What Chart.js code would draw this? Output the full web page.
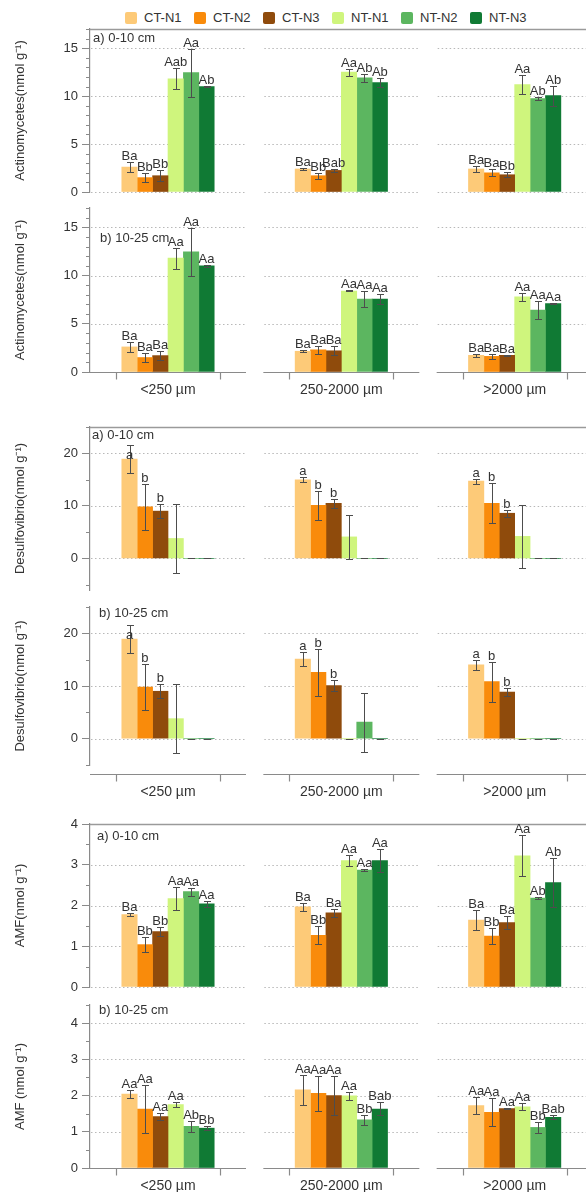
<!DOCTYPE html>
<html><head><meta charset="utf-8">
<script src="https://cdn.jsdelivr.net/npm/chart.js@4/dist/chart.umd.min.js"></script>
<style>
html,body{margin:0;padding:0;background:#fff;}
body{width:586px;height:1192px;overflow:hidden;position:relative;font-family:"Liberation Sans",Arial,Helvetica,sans-serif;color:#333;}
.lg{position:absolute;top:11px;height:14px;font-size:13px;line-height:14px;white-space:nowrap;}
.lg i{position:absolute;left:0;top:1px;width:12px;height:12px;border-radius:2px;}
.lg span{position:absolute;left:19px;top:0;}
canvas{position:absolute;left:0;}
</style></head><body>
<div id="legend"></div>
<script>
const treatments = ['CT-N1','CT-N2','CT-N3','NT-N1','NT-N2','NT-N3'];
const colors = ['#FDCA78','#F98B0B','#8F4B0C','#CFF57D','#5CB660','#107A34'];
const sizes = ['<250 µm','250-2000 µm','>2000 µm'];

// tick label values
const actTicks = [0,5,10,15];
const desTicks = [0,10,20];
const amfTicks = [0,1,2,3,4];

// rows = treatments (CT-N1..NT-N3), columns = size classes
const actA_mean = [[2.6,2.4,2.4],[1.5,1.7,2.0],[1.7,2.25,1.8],[11.8,12.5,11.2],[12.45,11.9,9.75],[11.0,11.4,10.05]];
const actA_err  = [[0.5,0.1,0.3],[0.45,0.3,0.35],[0.55,0.2,0.25],[1.1,0.35,1.0],[2.5,0.4,0.15],[0.1,0.45,1.05]];
const actA_lab  = [['Ba','Ba','Ba'],['Bb','Bb','Ba'],['Bb','Bab','Bb'],['Aab','Aa','Aa'],['Aa','Ab','Ab'],['Ab','Ab','Ab']];

const actB_mean = [[2.6,2.15,1.73],[1.5,2.3,1.62],[1.7,2.2,1.73],[11.8,8.4,7.78],[12.45,7.55,6.43],[11.0,7.55,7.1]];
const actB_err  = [[0.5,0.1,0.15],[0.45,0.4,0.25],[0.5,0.45,0.05],[1.1,0.05,0.4],[2.5,0.8,0.95],[0.1,0.55,0.05]];
const actB_lab  = [['Ba','Ba','Ba'],['Ba','Ba','Ba'],['Ba','Ba','Ba'],['Aa','Aa','Aa'],['Aa','Aa','Aa'],['Aa','Aa','Aa']];

const desA_mean = [[18.9,14.95,14.7],[9.8,10.1,10.5],[9.0,10.5,8.6],[3.8,4.1,4.2],[0,0,0],[0,0,0]];
const desA_err  = [[2.7,0.5,0.5],[4.4,2.8,3.8],[1.35,0.9,0.7],[6.6,4.2,6.0],[0,0,0],[0,0,0]];
const desA_lab  = [['a','a','a'],['b','b','b'],['b','b','b'],['','',''],['','',''],['','','']];

const desB_mean = [[18.9,15.1,14.0],[9.8,12.6,10.85],[9.0,10.1,8.85],[3.8,0,0],[0,3.15,0],[0,0,0]];
const desB_err  = [[2.7,1.3,1.0],[4.4,4.5,3.8],[1.35,1.1,0.8],[6.6,0,0],[0,5.6,0],[0,0,0]];
const desB_lab  = [['a','a','a'],['b','b','b'],['b','b','b'],['','',''],['','',''],['','','']];

const amfA_mean = [[1.78,1.97,1.64],[1.04,1.27,1.25],[1.36,1.82,1.58],[2.17,3.1,3.22],[2.34,2.87,2.18],[2.04,3.1,2.56]];
const amfA_err  = [[0.04,0.1,0.24],[0.18,0.22,0.19],[0.12,0.1,0.16],[0.28,0.13,0.5],[0.1,0.02,0.03],[0.08,0.28,0.6]];
const amfA_lab  = [['Ba','Ba','Ba'],['Bb','Bb','Bb'],['Bb','Ba','Ba'],['Aa','Aa','Aa'],['Aa','Aa','Ab'],['Aa','Aa','Ab']];

const amfB_mean = [[2.04,2.16,1.72],[1.63,2.06,1.54],[1.42,2.0,1.64],[1.75,1.99,1.69],[1.15,1.33,1.12],[1.1,1.63,1.4]];
const amfB_err  = [[0.1,0.42,0.24],[0.65,0.48,0.38],[0.1,0.53,0.02],[0.06,0.1,0.1],[0.16,0.13,0.16],[0.05,0.18,0.06]];
const amfB_lab  = [['Aa','Aa','Aa'],['Aa','Aa','Aa'],['Aa','Aa','Aa'],['Aa','Aa','Aa'],['Ab','Bb','Bb'],['Bb','Bab','Bab']];

const FONT = '"Liberation Sans", Arial, Helvetica, sans-serif';
const W = 620, PT = 20, PB = 50, AXIS_X = 90, RIGHT = 610;

function range(a, b, s) { const r = []; for (let v = a; v <= b + 1e-9; v += s) r.push(+v.toFixed(3)); return r; }

const panels = [
  {mean:actA_mean, err:actA_err, lab:actA_lab, min:0, max:17, ticks:actTicks, minor:range(0,17,1), grid:actTicks,
   top:29, bottom:192, frame:true, axisY:null, title:'Actinomycetes(nmol g⁻¹)', tag:'a) 0-10 cm', tagX:93, tagY:38},
  {mean:actB_mean, err:actB_err, lab:actB_lab, min:0, max:17, ticks:actTicks, minor:range(0,17,1), grid:[5,10,15],
   top:208, bottom:372, frame:false, axisY:372, title:'Actinomycetes(nmol g⁻¹)', tag:'b) 10-25 cm', tagX:100, tagY:238},
  {mean:desA_mean, err:desA_err, lab:desA_lab, min:-6, max:25, ticks:desTicks, minor:range(-5,25,5), grid:desTicks,
   top:427, bottom:589.5, frame:true, axisY:null, title:'Desulfovibrio(nmol g⁻¹)', tag:'a) 0-10 cm', tagX:92, tagY:435},
  {mean:desB_mean, err:desB_err, lab:desB_lab, min:-5, max:25, ticks:desTicks, minor:range(-5,25,5), grid:desTicks,
   top:607, bottom:765, frame:false, axisY:774, title:'Desulfovibrio(nmol g⁻¹)', tag:'b) 10-25 cm', tagX:99, tagY:613},
  {mean:amfA_mean, err:amfA_err, lab:amfA_lab, min:0, max:4, ticks:amfTicks, minor:range(0,4,0.5), grid:[0,1,2,3],
   top:824, bottom:987, frame:true, axisY:null, title:'AMF(nmol g⁻¹)', tag:'a) 0-10 cm', tagX:97, tagY:836},
  {mean:amfB_mean, err:amfB_err, lab:amfB_lab, min:0, max:4.5, ticks:amfTicks, minor:range(0,4.5,0.5), grid:[1,2,3,4],
   top:1005, bottom:1168, frame:false, axisY:1168, title:'AMF (nmol g⁻¹)', tag:'b) 10-25 cm', tagX:99, tagY:1010}
];

// legend
const lg = document.getElementById('legend');
treatments.forEach((t, i) => {
  const d = document.createElement('div');
  d.className = 'lg';
  d.style.left = (125 + i * 69) + 'px';
  d.innerHTML = '<i style="background:' + colors[i] + '"></i><span>' + t + '</span>';
  lg.appendChild(d);
});

function decoPlugin(p, offY) {
  return {
    id: 'deco',
    beforeDatasetsDraw(chart) {
      const {ctx, chartArea: ca} = chart;
      const x = chart.scales.x, y = chart.scales.y;
      ctx.save();
      // dotted grid segments
      ctx.strokeStyle = '#b8b8b8'; ctx.lineWidth = 1; ctx.setLineDash([1.5, 2.5]);
      p.grid.forEach(v => {
        const py = Math.round(y.getPixelForValue(v)) + 0.5;
        sizes.forEach((_, i) => {
          const cx = x.getPixelForValue(i);
          ctx.beginPath(); ctx.moveTo(Math.max(cx - 77, ca.left + 1), py); ctx.lineTo(cx + 77, py); ctx.stroke();
        });
      });
      ctx.setLineDash([]);
      if (p.frame) {
        ctx.strokeStyle = '#9a9a9a'; ctx.lineWidth = 1.3;
        ctx.beginPath(); ctx.moveTo(ca.left, Math.round(ca.top) + 0.5); ctx.lineTo(W, Math.round(ca.top) + 0.5); ctx.stroke();
      }
      if (p.axisY != null) {
        const ay = Math.round(p.axisY - offY) + 0.5;
        ctx.strokeStyle = '#8a8a8a'; ctx.lineWidth = 1.2;
        ctx.fillStyle = '#333'; ctx.font = '14px ' + FONT; ctx.textAlign = 'center'; ctx.textBaseline = 'middle';
        sizes.forEach((s, i) => {
          const cx = x.getPixelForValue(i);
          ctx.beginPath(); ctx.moveTo(Math.max(cx - 78, ca.left), ay); ctx.lineTo(cx + 78, ay); ctx.stroke();
          [-52, 52].forEach(dx => {
            const tx = Math.round(cx + dx) + 0.5;
            ctx.beginPath(); ctx.moveTo(tx, ay); ctx.lineTo(tx, ay + 7); ctx.stroke();
          });
          ctx.fillText(s, cx, ay + 18);
        });
      }
      ctx.restore();
    },
    afterDatasetsDraw(chart) {
      const {ctx, chartArea: ca} = chart;
      const y = chart.scales.y;
      ctx.save();
      // minor ticks
      ctx.strokeStyle = '#8a8a8a'; ctx.lineWidth = 1;
      p.minor.forEach(v => {
        if (p.ticks.includes(v)) return;
        const py = Math.round(y.getPixelForValue(v)) + 0.5;
        ctx.beginPath(); ctx.moveTo(ca.left - 4, py); ctx.lineTo(ca.left, py); ctx.stroke();
      });
      // panel tag extent (to keep letters clear of it)
      ctx.font = '13px ' + FONT;
      const tagW = ctx.measureText(p.tag).width;
      const tagTop = p.tagY - offY - 8, tagBot = p.tagY - offY + 8;
      // error bars and letters
      ctx.textAlign = 'center'; ctx.textBaseline = 'alphabetic'; ctx.fillStyle = '#333';
      for (let d = 0; d < treatments.length; d++) {
        const meta = chart.getDatasetMeta(d);
        meta.data.forEach((bar, i) => {
          const m = p.mean[d][i], e = p.err[d][i];
          const yt = Math.round(y.getPixelForValue(m + e)) + 0.5;
          const yb = Math.round(y.getPixelForValue(m - e)) + 0.5;
          const cx = Math.round(bar.x) + 0.5;
          ctx.strokeStyle = '#4d4d4d'; ctx.lineWidth = 1;
          ctx.beginPath();
          ctx.moveTo(cx, yt); ctx.lineTo(cx, yb);
          ctx.moveTo(cx - 3.5, yt); ctx.lineTo(cx + 3.5, yt);
          ctx.moveTo(cx - 3.5, yb); ctx.lineTo(cx + 3.5, yb);
          ctx.stroke();
          const t = p.lab[d][i];
          if (t) {
            let base = yt - 3;
            const inTagX = bar.x > p.tagX && bar.x < p.tagX + tagW;
            if (inTagX && base - 10 < tagBot && base > tagTop) base = yt + 13;
            ctx.fillText(t, bar.x, base);
          }
        });
      }
      // panel tag
      ctx.textAlign = 'left'; ctx.textBaseline = 'middle'; ctx.fillStyle = '#333';
      ctx.fillText(p.tag, p.tagX, p.tagY - offY);
      ctx.restore();
    }
  };
}

panels.forEach(p => {
  const cv = document.createElement('canvas');
  const h = Math.round(p.bottom - p.top) + PT + PB;
  const offY = p.top - PT;
  cv.width = W; cv.height = h;
  cv.style.top = offY + 'px'; cv.style.width = W + 'px'; cv.style.height = h + 'px';
  document.body.appendChild(cv);
  new Chart(cv, {
    type: 'bar',
    data: {
      datasets: treatments.map((t, d) => ({
        label: t,
        data: sizes.map((_, i) => ({x: i, y: p.mean[d][i]})),
        backgroundColor: colors[d],
        borderWidth: 0,
        barThickness: 15.4
      }))
    },
    options: {
      responsive: false, animation: false, devicePixelRatio: 1,
      layout: {padding: {top: PT, bottom: PB, left: 0, right: W - RIGHT}},
      plugins: {legend: {display: false}, tooltip: {enabled: false}},
      scales: {
        x: {type: 'linear', min: -0.45, max: 2.55, display: false, offset: false,
            afterBuildTicks: s => { s.ticks = sizes.map((_, i) => ({value: i})); }},
        y: {min: p.min, max: p.max,
            afterFit: s => { s.width = AXIS_X; },
            afterBuildTicks: s => { s.ticks = p.ticks.map(v => ({value: v})); },
            ticks: {font: {size: 13, family: FONT}, color: '#333', padding: 4, callback: v => String(v)},
            grid: {drawOnChartArea: false, drawTicks: true, tickLength: 8, color: '#8a8a8a', tickWidth: 1},
            border: {display: true, color: '#8a8a8a', width: 1.2},
            title: {display: true, text: p.title, color: '#333', font: {size: 13, family: FONT}, padding: {top: 13, bottom: 0}}}
      }
    },
    plugins: [decoPlugin(p, offY)]
  });
});
</script>
</body></html>
